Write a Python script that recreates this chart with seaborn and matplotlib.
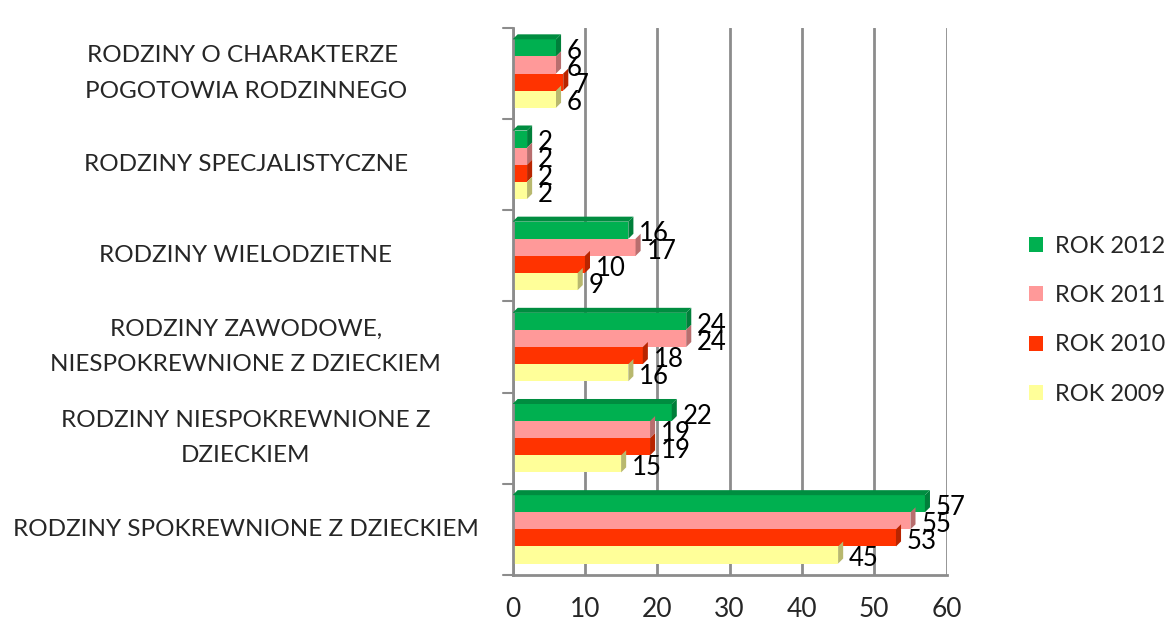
import numpy as np
import pandas as pd
import matplotlib
matplotlib.use("Agg")
import matplotlib.pyplot as plt
import seaborn as sns
from matplotlib.patches import Polygon
from matplotlib.colors import to_rgb

# ----------------------------
# Data
# ----------------------------
categories = [
    "RODZINY O CHARAKTERZE \nPOGOTOWIA RODZINNEGO",
    "RODZINY SPECJALISTYCZNE",
    "RODZINY WIELODZIETNE",
    "RODZINY ZAWODOWE,\nNIESPOKREWNIONE Z DZIECKIEM",
    "RODZINY NIESPOKREWNIONE Z\nDZIECKIEM",
    "RODZINY SPOKREWNIONE Z DZIECKIEM",
]
series = ["ROK 2012", "ROK 2011", "ROK 2010", "ROK 2009"]
rok_2012 = [6, 2, 16, 24, 22, 57]
rok_2011 = [6, 2, 17, 24, 19, 55]
rok_2010 = [7, 2, 10, 18, 19, 53]
rok_2009 = [6, 2, 9, 16, 15, 45]
colors = ["#00B050", "#FF9999", "#FF3300", "#FFFF99"]
x_ticks = [0, 10, 20, 30, 40, 50, 60]

rows = []
for name, vals in zip(series, [rok_2012, rok_2011, rok_2010, rok_2009]):
    for cat, v in zip(categories, vals):
        rows.append({"kategoria": cat, "seria": name, "wartosc": v})
df = pd.DataFrame(rows)

# ----------------------------
# Plot
# ----------------------------
sns.set_style("white")
plt.rcParams["font.family"] = ["Lato", "DejaVu Sans"]
GRID = "#8c8c8c"

fig = plt.figure(figsize=(11.73, 6.28), dpi=100)
ax = fig.add_axes([0.437, 0.0845, 0.37, 0.871])

sns.barplot(data=df, y="kategoria", x="wartosc", hue="seria",
            order=categories, hue_order=series, palette=colors,
            orient="h", width=0.75, gap=0, saturation=1, ax=ax,
            edgecolor="none", legend=True)

ax.set_xlim(0, 60)
ax.set_xticks(x_ticks)
ax.set_xlabel("")
ax.set_ylabel("")
ax.grid(axis="x", color=GRID, linewidth=2)
ax.set_axisbelow(True)
for s in ["top", "right"]:
    ax.spines[s].set_visible(False)
for s in ["left", "bottom"]:
    ax.spines[s].set_color(GRID)
    ax.spines[s].set_linewidth(2)

ax.tick_params(axis="x", labelsize=19, length=7, color=GRID, width=1.5, pad=9)

# category labels, centred in the left margin
ax.set_yticks(range(len(categories)))
ax.set_yticklabels([])
ax.tick_params(axis="y", length=0)
for i, cat in enumerate(categories):
    ax.text(-0.615, i, cat, transform=ax.get_yaxis_transform(), fontsize=17.5,
            ha="center", va="center", multialignment="center", linespacing=1.85)

# category boundary ticks on y axis
for b in np.arange(-0.5, len(categories), 1.0):
    ax.plot([-1.3, 0], [b, b], color=GRID, lw=1.5, clip_on=False)
ax.set_ylim(len(categories) - 0.5, -0.5)

# simple 3D faces on bars + value labels
dx, dy = 0.7, 0.055
for k, container in enumerate(ax.containers):
    for bar in container:
        x0, y0 = bar.get_x(), bar.get_y()
        w, h = bar.get_width(), bar.get_height()
        c = np.array(to_rgb(bar.get_facecolor()))
        side = Polygon([[x0 + w, y0 + h], [x0 + w, y0], [x0 + w + dx, y0 - dy],
                        [x0 + w + dx, y0 + h - dy]], closed=True,
                       facecolor=c * 0.72, edgecolor="none", zorder=3)
        ax.add_patch(side)
        if k == 0:
            top = Polygon([[x0, y0], [x0 + w, y0], [x0 + w + dx, y0 - dy],
                           [x0 + dx, y0 - dy]], closed=True,
                          facecolor=c * 0.8, edgecolor="none", zorder=3)
            ax.add_patch(top)
        ax.text(x0 + w + 1.5, y0 + h * 0.72, f"{int(w)}", fontsize=18.5,
                va="center", ha="left", color="black", zorder=5, clip_on=False)

handles, labels = ax.get_legend_handles_labels()
ax.get_legend().remove()
fig.legend(handles, labels, loc="center left", bbox_to_anchor=(0.859, 0.49),
           frameon=False, fontsize=17, handlelength=0.6, handleheight=0.6,
           labelspacing=1.2, handletextpad=0.5)

fig.savefig("out.png", dpi=100)
